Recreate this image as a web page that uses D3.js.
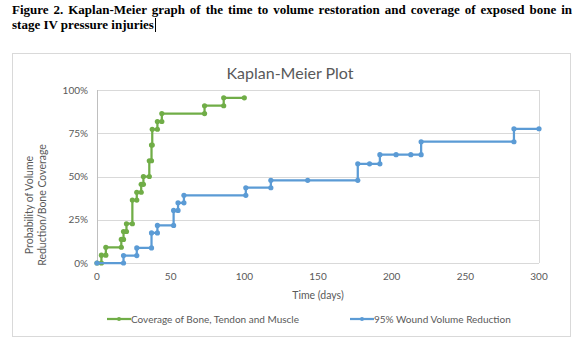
<!DOCTYPE html>
<html>
<head>
<meta charset="utf-8">
<script src="https://cdn.jsdelivr.net/npm/d3@7"></script>
<style>
  body { margin: 0; background: #fff; width: 583px; height: 350px; overflow: hidden; position: relative; }
  .caption { position: absolute; left: 12px; width: 560px; font-family: "Liberation Serif", "Times New Roman", serif; font-weight: bold; font-size: 13px; color: #000; line-height: 15px; }
  .caption.l1 { top: 2px; text-align: justify; text-align-last: justify; }
  .caption.l2 { top: 17px; }
  .caret { display: inline-block; width: 1px; height: 14px; background: #000; vertical-align: -3px; margin-left: 1px; }
  svg { position: absolute; left: 0; top: 0; }
  text { font-family: Lato, "Open Sans", sans-serif; fill: #595959; }
</style>
</head>
<body>
<div class="caption l1">Figure 2. Kaplan-Meier graph of the time to volume restoration and coverage of exposed bone in</div>
<div class="caption l2">stage IV pressure injuries<span class="caret"></span></div>
<div id="chart"></div>
<script>
// Kaplan-Meier event times (days) and cumulative probability after each event
const greenTimes = [3, 6, 16.5, 18, 20, 24, 27, 30, 31.5, 35.5, 37, 37.5, 41, 44, 73, 86];
const greenProb = [0.045, 0.091, 0.136, 0.182, 0.227, 0.364, 0.409, 0.455, 0.5, 0.591, 0.682, 0.773, 0.818, 0.864, 0.909, 0.955];
const greenCensored = [100];

const blueTimes = [18, 27, 37, 41, 52, 55, 59, 101, 118, 177, 192, 220, 283];
const blueProb = [0.043, 0.087, 0.174, 0.217, 0.304, 0.348, 0.391, 0.435, 0.478, 0.573, 0.626, 0.701, 0.776];
const blueCensored = [143, 185, 203, 213, 300];

const xTicks = [0, 50, 100, 150, 200, 250, 300];
const yTicks = [0, 0.25, 0.5, 0.75, 1];

const seriesNames = ["Coverage of Bone, Tendon and Muscle", "95% Wound Volume Reduction"];
const seriesColors = ["#70ad47", "#5b9bd5"];

// build step points: one at the old level and one at the new level for each event
function kmPoints(times, probs, censored) {
  const pts = [{ t: 0, p: 0 }];
  let cur = 0;
  const events = times.map((t, i) => ({ t, p: probs[i], ev: true }))
    .concat(censored.map(t => ({ t, ev: false })))
    .sort((a, b) => a.t - b.t);
  events.forEach(e => {
    if (e.ev) {
      pts.push({ t: e.t, p: cur });
      pts.push({ t: e.t, p: e.p });
      cur = e.p;
    } else {
      pts.push({ t: e.t, p: cur });
    }
  });
  return pts;
}

const series = [
  kmPoints(greenTimes, greenProb, greenCensored),
  kmPoints(blueTimes, blueProb, blueCensored)
];

const W = 583, H = 350;
const plot = { left: 97, right: 539, top: 90, bottom: 263 };

const svg = d3.select("#chart").append("svg").attr("width", W).attr("height", H);

// chart frame
svg.append("rect")
  .attr("x", 12.5).attr("y", 53.5).attr("width", 558).attr("height", 283)
  .attr("fill", "none").attr("stroke", "#d9d9d9");

svg.append("text")
  .attr("x", 290).attr("y", 79)
  .attr("text-anchor", "middle")
  .style("font-size", "16px")
  .text("Kaplan-Meier Plot");

const x = d3.scaleLinear().domain([0, 300]).range([plot.left, plot.right]);
const y = d3.scaleLinear().domain([0, 1]).range([plot.bottom, plot.top]);

// gridlines
svg.append("g")
  .selectAll("line")
  .data(yTicks)
  .join("line")
  .attr("x1", plot.left).attr("x2", plot.right)
  .attr("y1", d => Math.round(y(d)) + 0.5).attr("y2", d => Math.round(y(d)) + 0.5)
  .attr("stroke", "#d9d9d9");

// plot area border (left axis + right edge)
svg.append("line")
  .attr("x1", plot.left + 0.5).attr("x2", plot.left + 0.5)
  .attr("y1", plot.top).attr("y2", plot.bottom)
  .attr("stroke", "#bfbfbf");
svg.append("line")
  .attr("x1", plot.right + 0.5).attr("x2", plot.right + 0.5)
  .attr("y1", plot.top).attr("y2", plot.bottom)
  .attr("stroke", "#d9d9d9");

// y tick labels
svg.append("g")
  .selectAll("text")
  .data(yTicks)
  .join("text")
  .attr("x", 88).attr("y", d => y(d) + 3.5)
  .attr("text-anchor", "end")
  .style("font-size", "10px")
  .text(d => d3.format(".0%")(d));

// x tick labels
svg.append("g")
  .selectAll("text")
  .data(xTicks)
  .join("text")
  .attr("x", d => x(d)).attr("y", 280)
  .attr("text-anchor", "middle")
  .style("font-size", "10px")
  .text(d => d);

// axis titles
svg.append("text")
  .attr("x", 318).attr("y", 299)
  .attr("text-anchor", "middle")
  .style("font-size", "10.5px")
  .text("Time (days)");

const yTitle = svg.append("text")
  .attr("transform", "translate(33,205) rotate(-90)")
  .attr("text-anchor", "middle")
  .style("font-size", "10.5px");
yTitle.append("tspan").attr("x", 0).attr("dy", 0).text("Probability of Volume");
yTitle.append("tspan").attr("x", 0).attr("dy", 13).text("Reduction/Bone Coverage");

// series
const line = d3.line().x(d => x(d.t)).y(d => y(d.p));

series.forEach((pts, i) => {
  const g = svg.append("g");
  g.append("path")
    .attr("d", line(pts))
    .attr("fill", "none")
    .attr("stroke", seriesColors[i])
    .attr("stroke-width", 2.25)
    .attr("stroke-linejoin", "round");
  g.selectAll("circle")
    .data(pts)
    .join("circle")
    .attr("cx", d => x(d.t)).attr("cy", d => y(d.p))
    .attr("r", 2.6)
    .attr("fill", seriesColors[i]);
});

// legend
const legendX = [107, 350];
seriesNames.forEach((name, i) => {
  const g = svg.append("g").attr("transform", `translate(${legendX[i]},319)`);
  g.append("line")
    .attr("x1", 0).attr("x2", 24)
    .attr("stroke", seriesColors[i]).attr("stroke-width", 2.25);
  g.append("circle").attr("cx", 12).attr("r", 2).attr("fill", seriesColors[i]);
  g.append("text")
    .attr("x", 24).attr("y", 3.5)
    .style("font-size", "10px")
    .text(name);
});
</script>
</body>
</html>
